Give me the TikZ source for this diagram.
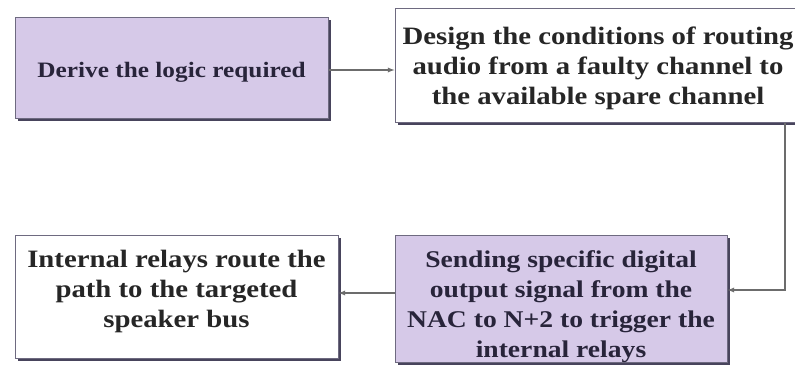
\documentclass[tikz,border=0pt]{standalone}
\usepackage{fontspec}
\newfontfamily\boxfont{Liberation Serif}[FakeStretch=1.15]
\usepackage{tikz}
\usetikzlibrary{calc,arrows,shadows,positioning}

\definecolor{lilac}{RGB}{214,201,232}
\definecolor{edgegray}{RGB}{110,106,128}
\definecolor{shadowgray}{RGB}{72,68,92}
\definecolor{inkdark}{RGB}{40,36,58}

% box height, gap above first line, lines
\newcommand{\stacklines}[3]{\vbox to #1{\vskip #2\hbox{\begin{tabular}{@{}c@{}}#3\end{tabular}}\vss}}

\begin{document}
\begin{tikzpicture}[x=1pt, y=-1pt,
    stepbox/.style={draw=edgegray, line width=1pt, inner sep=0pt,
        text=inkdark, drop shadow={shadow xshift=2.5pt, shadow yshift=-2.5pt, fill=shadowgray, opacity=1}},
    textsize/.style={font=\boxfont\bfseries\fontsize{#1}{30}\selectfont},
    purplebox/.style={stepbox, fill=lilac},
    whitebox/.style={stepbox, fill=white, text=black!85},
    arr/.style={draw=gray!85!black, line width=1.3pt, -latex}]
    \clip (0,0) rectangle (795,367);

    \node[purplebox, textsize=22, minimum width=313, minimum height=101] (derive) at (171.5,67.5)
        {\stacklines{101pt}{39pt}{Derive the logic required}};
    \node[whitebox, textsize=25, minimum width=406, minimum height=114] (design) at (598,65)
        {\stacklines{114pt}{15pt}{Design the conditions of routing\\ audio from a faulty channel to\\ the available spare channel}};
    \node[purplebox, textsize=24, minimum width=332, minimum height=127] (send) at (561,298.5)
        {\stacklines{127pt}{11pt}{Sending specific digital\\ output signal from the\\ NAC to N+2 to trigger the\\ internal relays}};
    \node[whitebox, textsize=25, minimum width=323, minimum height=123] (relay) at (176.5,296.5)
        {\stacklines{123pt}{11pt}{Internal relays route the\\ path to the targeted\\ speaker bus}};

    \coordinate (turn) at (785,290);
    \coordinate (low) at (366,293);
    \draw[arr] ([yshift=-2.5pt]derive.east) -- ([yshift=-2.5pt]derive.east -| design.west);
    \draw[arr] (design.south -| turn) |- (send.east |- turn);
    \draw[arr] (send.west |- low) -- (relay.east |- low);
\end{tikzpicture}
\end{document}
